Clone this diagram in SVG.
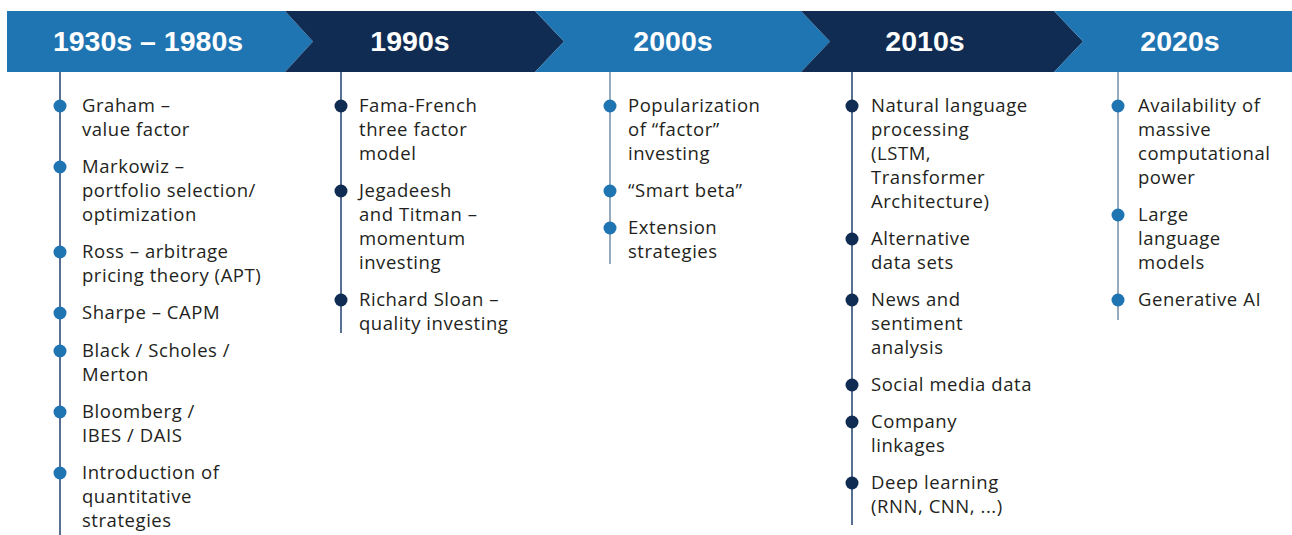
<svg xmlns="http://www.w3.org/2000/svg" width="1292" height="535" viewBox="0 0 1292 535">
<style>
.blue{fill:#1f74b2}
.dark{fill:#102c52}
.hd{font-family:"Liberation Sans",Arial,sans-serif;font-weight:bold;font-size:28.5px;fill:#ffffff;text-anchor:middle}
.tx{font-family:"Open Sans","Liberation Sans",sans-serif;font-size:18.5px;fill:#231f20;letter-spacing:0.55px}
.ld{stroke:#2e4d78;stroke-width:1.6;fill:none}
.ll{stroke:#7d94ad;stroke-width:1.6;fill:none}
.bb{fill:#1f74b2}
.bd{fill:#102c52}
</style>
<rect width="1292" height="535" fill="#ffffff"/>
<g id="connectors">
<line class="ld" x1="60" y1="72" x2="60" y2="535"/>
<line class="ld" x1="341" y1="72" x2="341" y2="333"/>
<line class="ll" x1="610" y1="72" x2="610" y2="264"/>
<line class="ld" x1="852" y1="72" x2="852" y2="525"/>
<line class="ll" x1="1118" y1="72" x2="1118" y2="320"/>
</g>
<g id="era-1930s-1980s">
<path class="blue" d="M7,11 H285 L313,41.5 L285,72 H7 Z"/>
<text class="hd" x="148" y="51">1930s – 1980s</text>
<circle class="bb" cx="60" cy="106" r="6.5"/>
<circle class="bb" cx="60" cy="167" r="6.5"/>
<circle class="bb" cx="60" cy="252" r="6.5"/>
<circle class="bb" cx="60" cy="313" r="6.5"/>
<circle class="bb" cx="60" cy="351" r="6.5"/>
<circle class="bb" cx="60" cy="412" r="6.5"/>
<circle class="bb" cx="60" cy="473" r="6.5"/>
<text class="tx" x="82" y="112">Graham –</text>
<text class="tx" x="82" y="136">value factor</text>
<text class="tx" x="82" y="173">Markowiz –</text>
<text class="tx" x="82" y="197">portfolio selection/</text>
<text class="tx" x="82" y="221">optimization</text>
<text class="tx" x="82" y="258">Ross – arbitrage</text>
<text class="tx" x="82" y="282">pricing theory (APT)</text>
<text class="tx" x="82" y="319">Sharpe – CAPM</text>
<text class="tx" x="82" y="357">Black / Scholes /</text>
<text class="tx" x="82" y="381">Merton</text>
<text class="tx" x="82" y="418">Bloomberg /</text>
<text class="tx" x="82" y="442">IBES / DAIS</text>
<text class="tx" x="82" y="479">Introduction of</text>
<text class="tx" x="82" y="503">quantitative</text>
<text class="tx" x="82" y="527">strategies</text>
</g>
<g id="era-1990s">
<path class="dark" d="M285,11 H535 L564,41.5 L535,72 H285 L313,41.5 Z"/>
<text class="hd" x="410" y="51">1990s</text>
<circle class="bd" cx="341" cy="106" r="6.5"/>
<circle class="bd" cx="341" cy="191" r="6.5"/>
<circle class="bd" cx="341" cy="300" r="6.5"/>
<text class="tx" x="359" y="112">Fama-French</text>
<text class="tx" x="359" y="136">three factor</text>
<text class="tx" x="359" y="160">model</text>
<text class="tx" x="359" y="197">Jegadeesh</text>
<text class="tx" x="359" y="221">and Titman –</text>
<text class="tx" x="359" y="245">momentum</text>
<text class="tx" x="359" y="269">investing</text>
<text class="tx" x="359" y="306">Richard Sloan –</text>
<text class="tx" x="359" y="330">quality investing</text>
</g>
<g id="era-2000s">
<path class="blue" d="M535,11 H801 L830,41.5 L801,72 H535 L564,41.5 Z"/>
<text class="hd" x="673" y="51">2000s</text>
<circle class="bb" cx="610" cy="106" r="6.5"/>
<circle class="bb" cx="610" cy="191" r="6.5"/>
<circle class="bb" cx="610" cy="228" r="6.5"/>
<text class="tx" x="628" y="112">Popularization</text>
<text class="tx" x="628" y="136">of “factor”</text>
<text class="tx" x="628" y="160">investing</text>
<text class="tx" x="628" y="197">“Smart beta”</text>
<text class="tx" x="628" y="234">Extension</text>
<text class="tx" x="628" y="258">strategies</text>
</g>
<g id="era-2010s">
<path class="dark" d="M801,11 H1054 L1083,41.5 L1054,72 H801 L830,41.5 Z"/>
<text class="hd" x="925" y="51">2010s</text>
<circle class="bd" cx="852" cy="106" r="6.5"/>
<circle class="bd" cx="852" cy="239" r="6.5"/>
<circle class="bd" cx="852" cy="300" r="6.5"/>
<circle class="bd" cx="852" cy="385" r="6.5"/>
<circle class="bd" cx="852" cy="422" r="6.5"/>
<circle class="bd" cx="852" cy="483" r="6.5"/>
<text class="tx" x="871" y="112">Natural language</text>
<text class="tx" x="871" y="136">processing</text>
<text class="tx" x="871" y="160">(LSTM,</text>
<text class="tx" x="871" y="184">Transformer</text>
<text class="tx" x="871" y="208">Architecture)</text>
<text class="tx" x="871" y="245">Alternative</text>
<text class="tx" x="871" y="269">data sets</text>
<text class="tx" x="871" y="306">News and</text>
<text class="tx" x="871" y="330">sentiment</text>
<text class="tx" x="871" y="354">analysis</text>
<text class="tx" x="871" y="391">Social media data</text>
<text class="tx" x="871" y="428">Company</text>
<text class="tx" x="871" y="452">linkages</text>
<text class="tx" x="871" y="489">Deep learning</text>
<text class="tx" x="871" y="513">(RNN, CNN, ...)</text>
</g>
<g id="era-2020s">
<path class="blue" d="M1054,11 H1292 V72 H1054 L1083,41.5 Z"/>
<text class="hd" x="1180" y="51">2020s</text>
<circle class="bb" cx="1118" cy="106" r="6.5"/>
<circle class="bb" cx="1118" cy="215" r="6.5"/>
<circle class="bb" cx="1118" cy="300" r="6.5"/>
<text class="tx" x="1138" y="112">Availability of</text>
<text class="tx" x="1138" y="136">massive</text>
<text class="tx" x="1138" y="160">computational</text>
<text class="tx" x="1138" y="184">power</text>
<text class="tx" x="1138" y="221">Large</text>
<text class="tx" x="1138" y="245">language</text>
<text class="tx" x="1138" y="269">models</text>
<text class="tx" x="1138" y="306">Generative AI</text>
</g>
</svg>
